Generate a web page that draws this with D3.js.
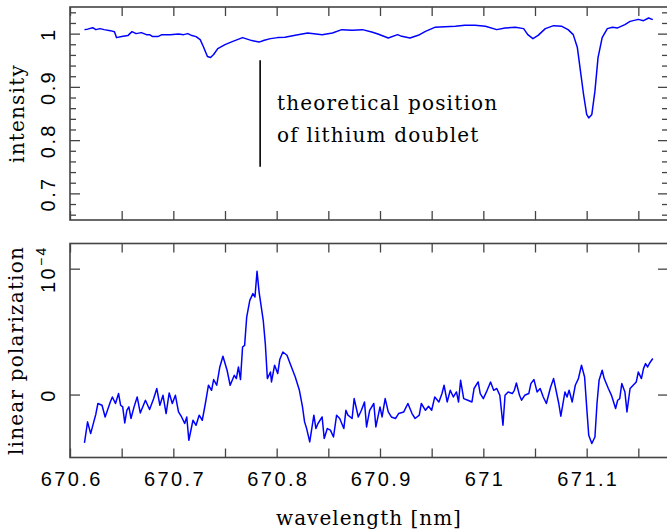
<!DOCTYPE html>
<html>
<head>
<meta charset="utf-8">
<script src="https://cdn.jsdelivr.net/npm/d3@7"></script>
<style>
  body { margin: 0; background: #fff; }
  svg { display: block; font-family: "DejaVu Serif", serif; }
  .tick line { stroke: #444; stroke-width: 1.3; }
  .tick text { font-size: 20px; fill: #000; letter-spacing: 2.4px; }
  .label { font-size: 20px; letter-spacing: 1.2px; }
</style>
</head>
<body>
<div id="chart"></div>
<script>
// intensity spectrum (top panel)
const wlTop = [670.614, 670.617, 670.622, 670.625, 670.629, 670.633, 670.639, 670.643, 670.645, 670.650,
  670.656, 670.660, 670.664, 670.669, 670.674, 670.677, 670.680, 670.685, 670.689, 670.697,
  670.705, 670.710, 670.714, 670.718, 670.722, 670.726, 670.729, 670.733, 670.736, 670.739,
  670.743, 670.750, 670.757, 670.767, 670.770, 670.776, 670.783, 670.788, 670.794, 670.801,
  670.808, 670.818, 670.830, 670.844, 670.854, 670.863, 670.873, 670.883, 670.892, 670.898,
  670.908, 670.917, 670.921, 670.929, 670.937, 670.944, 670.953, 670.963, 670.973, 670.982,
  670.992, 671.002, 671.013, 671.021, 671.031, 671.039, 671.043, 671.048, 671.053, 671.060,
  671.068, 671.076, 671.082, 671.087, 671.091, 671.094, 671.097, 671.100, 671.102, 671.105,
  671.108, 671.111, 671.115, 671.120, 671.125, 671.130, 671.137, 671.142, 671.150, 671.155,
  671.160, 671.164];
const intensity = [1.0075, 1.0084, 1.0112, 1.0075, 1.0094, 1.0075, 1.0056, 1.0037, 0.9925, 0.9944,
  0.9963, 1.0037, 1.0000, 1.0019, 0.9981, 0.9981, 0.9944, 0.9944, 0.9981, 0.9981,
  0.9991, 0.9981, 1.0000, 0.9963, 0.9944, 0.9888, 0.9757, 0.9569, 0.9551, 0.9607,
  0.9719, 0.9794, 0.9850, 0.9925, 0.9906, 0.9869, 0.9841, 0.9875, 0.9906, 0.9925,
  0.9931, 0.9968, 1.0013, 0.9981, 1.0013, 1.0075, 1.0062, 1.0075, 1.0032, 0.9994,
  0.9919, 0.9981, 0.9949, 0.9919, 0.9968, 1.0043, 1.0118, 1.0131, 1.0137, 1.0155,
  1.0155, 1.0137, 1.0075, 1.0107, 1.0118, 1.0094, 0.9981, 0.9906, 0.9968, 1.0094,
  1.0150, 1.0137, 1.0075, 0.9981, 0.9738, 0.9294, 0.8857, 0.8483, 0.8417, 0.8483,
  0.8919, 0.9550, 0.9925, 1.0094, 1.0118, 1.0107, 1.0169, 1.0230, 1.0268, 1.0243,
  1.0294, 1.0262];

// linear polarization, units of 1e-4 (bottom panel)
const wlBottom = [670.614, 670.617, 670.620, 670.623, 670.625, 670.627, 670.631, 670.634, 670.639, 670.641,
  670.644, 670.647, 670.649, 670.651, 670.653, 670.655, 670.657, 670.659, 670.662, 670.665,
  670.668, 670.673, 670.677, 670.681, 670.684, 670.687, 670.690, 670.693, 670.696, 670.699,
  670.702, 670.705, 670.708, 670.711, 670.713, 670.715, 670.719, 670.722, 670.725, 670.728,
  670.731, 670.734, 670.737, 670.739, 670.742, 670.745, 670.748, 670.752, 670.755, 670.759,
  670.761, 670.763, 670.765, 670.767, 670.769, 670.771, 670.774, 670.777, 670.779, 670.781,
  670.783, 670.787, 670.789, 670.791, 670.794, 670.795, 670.798, 670.801, 670.803, 670.806,
  670.810, 670.813, 670.818, 670.822, 670.825, 670.827, 670.829, 670.832, 670.836, 670.838,
  670.840, 670.844, 670.846, 670.849, 670.852, 670.855, 670.858, 670.861, 670.865, 670.867,
  670.869, 670.873, 670.875, 670.879, 670.882, 670.885, 670.887, 670.890, 670.894, 670.896,
  670.900, 670.902, 670.905, 670.908, 670.911, 670.915, 670.918, 670.923, 670.927, 670.931,
  670.934, 670.938, 670.940, 670.944, 670.947, 670.950, 670.953, 670.957, 670.960, 670.962,
  670.965, 670.968, 670.971, 670.974, 670.976, 670.978, 670.981, 670.985, 670.989, 670.991,
  670.995, 670.997, 671.000, 671.003, 671.007, 671.010, 671.013, 671.016, 671.019, 671.021,
  671.024, 671.028, 671.030, 671.032, 671.035, 671.037, 671.040, 671.044, 671.046, 671.049,
  671.052, 671.055, 671.058, 671.061, 671.065, 671.068, 671.070, 671.073, 671.075, 671.079,
  671.081, 671.083, 671.086, 671.089, 671.092, 671.095, 671.098, 671.100, 671.102, 671.105,
  671.108, 671.110, 671.112, 671.115, 671.117, 671.121, 671.124, 671.128, 671.130, 671.132,
  671.134, 671.137, 671.139, 671.142, 671.145, 671.148, 671.150, 671.153, 671.155, 671.157,
  671.159, 671.161, 671.164];
const polarization = [-3.84, -2.17, -3.10, -2.17, -1.56, -0.71, -0.85, -1.78, -0.59, -0.19,
  -0.71, 0.08, -0.85, -0.98, -2.25, -1.25, -0.98, -1.90, -0.98, -0.19,
  -1.46, -0.45, -1.19, -0.32, 0.48, -0.85, -0.06, -1.51, 0.13, -0.71,
  -0.06, -1.38, -1.78, -2.30, -1.78, -3.63, -2.04, -2.44, -1.64, -2.04,
  -0.71, 0.74, 0.34, 1.19, 0.74, 2.19, 3.04, 1.93, 0.74, 1.53,
  1.27, 2.19, 1.19, 3.78, 3.91, 6.16, 7.48, 8.02, 7.75, 9.79,
  8.14, 5.90, 4.05, 1.27, 1.79, 1.00, 2.33, 1.67, 2.78, 3.38,
  3.12, 2.46, 1.40, 0.34, -0.98, -2.17, -2.70, -3.76, -1.64, -2.70,
  -2.30, -1.78, -3.49, -2.70, -2.83, -3.37, -1.64, -1.90, -2.70, -1.25,
  -1.64, -1.90, -0.32, -1.78, -1.25, -0.59, -2.57, -1.25, -0.71, -2.57,
  -0.98, -1.78, -0.32, -1.38, -1.78, -1.90, -1.51, -1.38, -0.71, -1.51,
  -1.90, -1.64, -0.71, -1.25, -0.93, -1.25, -0.19, -0.59, 0.08, 0.74,
  -0.59, 0.34, -0.19, 0.21, -0.59, 1.13, -0.32, -0.45, -0.59, 0.48,
  1.00, 0.08, -0.32, 0.21, 1.00, 0.34, 0.48, -0.06, -2.44, -0.06,
  0.21, 0.08, 0.34, 0.92, -0.06, -0.45, -0.06, 0.08, 0.87, 1.19,
  0.21, 0.48, -0.19, -0.71, 0.56, 1.27, 0.48, -0.71, -1.72, 0.21,
  -0.19, 0.34, -0.59, 0.74, 1.27, 2.33, 1.40, -0.98, -3.23, -3.89,
  -3.37, -0.71, 1.13, 1.93, 1.27, 0.48, -0.06, -1.11, -0.45, -0.32,
  0.87, 0.21, -1.38, 0.48, 0.74, 1.00, 1.79, 1.27, 2.06, 2.46,
  2.19, 2.51, 2.86];

const xTicks = [670.6, 670.7, 670.8, 670.9, 671.0, 671.1];
const xMinorTicks = [670.65, 670.75, 670.85, 670.95, 671.05, 671.15];
const topYTicks = [0.7, 0.8, 0.9, 1.0];
const topYMinor = [0.66, 0.68, 0.72, 0.74, 0.76, 0.78, 0.82, 0.84, 0.86, 0.88, 0.92, 0.94, 0.96, 0.98, 1.02, 1.04];
const bottomYTicks = [0, 10];
const lithiumPos = 670.784;
const lithiumRange = [0.75, 0.95];
const noteLines = ["theoretical position", "of lithium doublet"];

const width = 667, height = 530;
const left = 70, right = 690, frameRight = 668;
const frameColor = "#444";

const svg = d3.select("#chart").append("svg")
    .attr("width", width)
    .attr("height", height);

const x = d3.scaleLinear().domain([670.6, 671.2]).range([left, right]);
const yTop = d3.scaleLinear().domain([0.65, 1.05]).range([220, 7]);
const yBot = d3.scaleLinear().domain([-5, 12]).range([457.5, 243.5]);

function xAxes(yScale, showLabels) {
    const [y0, y1] = yScale.range();
    const fmt = d => showLabels ? String(+d.toFixed(1)) : "";
    svg.append("g")
        .attr("transform", `translate(0,${y0})`)
        .call(d3.axisBottom(x).tickValues(xTicks.concat(xMinorTicks)).tickSize(-9).tickPadding(14)
            .tickFormat(d => xTicks.includes(d) ? fmt(d) : ""))
        .call(g => g.select(".domain").remove())
        .call(g => g.selectAll("text").attr("dx", 1.2));
    svg.append("g")
        .attr("transform", `translate(0,${y1})`)
        .call(d3.axisTop(x).tickValues(xTicks.concat(xMinorTicks)).tickSize(-9).tickFormat(""))
        .call(g => g.select(".domain").remove());
}

function yAxes(yScale, major, minor, fmt) {
    const gl = svg.append("g")
        .attr("transform", `translate(${left},0)`)
        .call(d3.axisLeft(yScale).tickValues(major).tickSize(-10).tickFormat(fmt))
        .call(g => g.select(".domain").remove());
    gl.selectAll("text")
        .attr("x", 0).attr("dy", 0)
        .attr("text-anchor", "middle")
        .attr("transform", "translate(-15,0) rotate(-90)");
    svg.append("g")
        .attr("transform", `translate(${frameRight},0)`)
        .call(d3.axisRight(yScale).tickValues(major).tickSize(-10).tickFormat(""))
        .call(g => g.select(".domain").remove());
    if (minor.length) {
        svg.append("g")
            .attr("transform", `translate(${left},0)`)
            .call(d3.axisLeft(yScale).tickValues(minor).tickSize(-6).tickFormat(""))
            .call(g => g.select(".domain").remove());
        svg.append("g")
            .attr("transform", `translate(${frameRight},0)`)
            .call(d3.axisRight(yScale).tickValues(minor).tickSize(-6).tickFormat(""))
            .call(g => g.select(".domain").remove());
    }
    return gl;
}

function frame(yScale) {
    const [y0, y1] = yScale.range();
    svg.append("rect")
        .attr("x", left).attr("y", y1)
        .attr("width", frameRight - left).attr("height", y0 - y1)
        .attr("fill", "none")
        .attr("stroke", frameColor)
        .attr("stroke-width", 1.6);
}

// --- top panel
xAxes(yTop, false);
yAxes(yTop, topYTicks, topYMinor, d => String(+d.toFixed(1)));
frame(yTop);

svg.append("path")
    .datum(d3.zip(wlTop, intensity))
    .attr("fill", "none")
    .attr("stroke", "#0000ff")
    .attr("stroke-width", 1.5)
    .attr("stroke-linejoin", "round")
    .attr("d", d3.line().x(d => x(d[0])).y(d => yTop(d[1])));

svg.append("line")
    .attr("x1", x(lithiumPos)).attr("x2", x(lithiumPos))
    .attr("y1", yTop(lithiumRange[0])).attr("y2", yTop(lithiumRange[1]))
    .attr("stroke", "#000")
    .attr("stroke-width", 1.6);

svg.append("g").selectAll("text")
    .data(noteLines)
    .join("text")
    .attr("class", "label")
    .attr("x", 277)
    .attr("y", (d, i) => 110 + i * 32)
    .text(d => d);

svg.append("text")
    .attr("class", "label")
    .attr("transform", `translate(24,${(yTop.range()[0] + yTop.range()[1]) / 2}) rotate(-90)`)
    .attr("text-anchor", "middle")
    .text("intensity");

// --- bottom panel
xAxes(yBot, true);
const gBot = yAxes(yBot, bottomYTicks, [], d => d === 10 ? "" : String(d));
gBot.selectAll(".tick")
    .filter(d => d === 10)
    .select("text")
    .call(t => {
        t.append("tspan").text("10");
        t.append("tspan").attr("font-size", 14).attr("dy", -9).text("−4");
    });
frame(yBot);

svg.append("path")
    .datum(d3.zip(wlBottom, polarization))
    .attr("fill", "none")
    .attr("stroke", "#0000ff")
    .attr("stroke-width", 1.5)
    .attr("stroke-linejoin", "round")
    .attr("d", d3.line().x(d => x(d[0])).y(d => yBot(d[1])));

svg.append("text")
    .attr("class", "label")
    .attr("transform", `translate(23,${(yBot.range()[0] + yBot.range()[1]) / 2}) rotate(-90)`)
    .attr("text-anchor", "middle")
    .text("linear polarization");

svg.append("text")
    .attr("class", "label")
    .attr("x", (left + frameRight) / 2)
    .attr("y", 525)
    .attr("text-anchor", "middle")
    .style("letter-spacing", "1px")
    .text("wavelength [nm]");
</script>
</body>
</html>
